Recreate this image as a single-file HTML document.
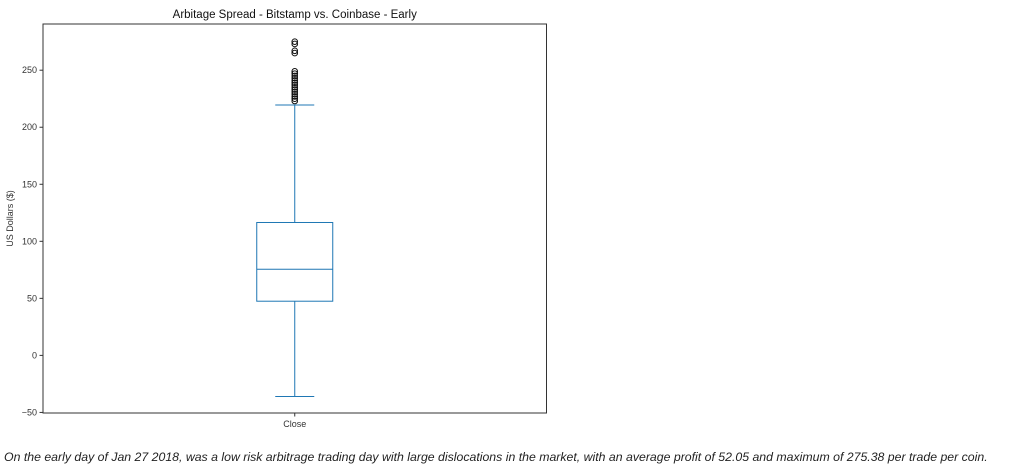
<!DOCTYPE html>
<html><head><meta charset="utf-8"><style>
body{margin:0;background:#fff;width:1019px;height:473px;overflow:hidden;font-family:"Liberation Sans",sans-serif}
svg{position:absolute;left:0;top:0}
.cap{position:absolute;left:4px;top:450px;font-style:italic;font-size:12.3px;color:#222;white-space:nowrap}
</style></head><body>
<svg id="chart" width="1019" height="473"></svg>
<div class="cap">On the early day of Jan 27 2018, was a low risk arbitrage trading day with large dislocations in the market, with an average profit of 52.05 and maximum of 275.38 per trade per coin.</div>
<script>
const categories=["Close"];
const q1=[47.5], median=[75.5], q3=[116.5], whiskerLow=[-36], whiskerHigh=[219.5];
const outliers=[275,273,267,265,249,247,245,243,241,239,237,235,233,231,229,227,225,223];
const yTicks=[-50,0,50,100,150,200,250];
const NS="http://www.w3.org/2000/svg";
const svg=document.getElementById('chart');
const L=43,R=546.5,T=24,B=413,ymin=-50.5,ymax=290.5;
const y=v=>B-(v-ymin)/(ymax-ymin)*(B-T);
const x=i=>L+(i+0.5)*(R-L)/categories.length;
function mk(t,a){const e=document.createElementNS(NS,t);for(const k in a)e.setAttribute(k,a[k]);svg.appendChild(e);return e;}
const frame=mk('rect',{x:L,y:T,width:R-L,height:B-T,fill:'none',stroke:'#333','stroke-width':1});


const title=mk('text',{x:(L+R)/2,y:18,'text-anchor':'middle','font-size':11.5,fill:'#111'});title.textContent='Arbitage Spread - Bitstamp vs. Coinbase - Early';


const yl=mk('text',{x:13,y:(T+B)/2,'text-anchor':'middle','font-size':9,fill:'#333',transform:`rotate(-90 13 ${(T+B)/2})`});yl.textContent='US Dollars ($)';


yTicks.forEach(t=>{
 mk('line',{x1:L-3.5,x2:L,y1:y(t),y2:y(t),stroke:'#333'});
 const tx=mk('text',{x:L-6,y:y(t)+3,'text-anchor':'end','font-size':9,fill:'#333'});tx.textContent=t<0?'\u2212'+(-t):t;
 
 
});
const c='#1f77b4';
categories.forEach((cat,i)=>{
 const cx=x(i),bw=76,cw=39;
 mk('line',{x1:cx,x2:cx,y1:B,y2:B+3.5,stroke:'#333'});
 const xl=mk('text',{x:cx,y:B+14,'text-anchor':'middle','font-size':9,fill:'#333'});xl.textContent=cat;
 
 
 const box=mk('rect',{x:cx-bw/2,y:y(q3[i]),width:bw,height:y(q1[i])-y(q3[i]),fill:'none',stroke:c,'stroke-width':1});
 
 
 const md=mk('line',{x1:cx-bw/2,x2:cx+bw/2,y1:y(median[i]),y2:y(median[i]),stroke:c});
 
 
 mk('line',{x1:cx,x2:cx,y1:y(q3[i]),y2:y(whiskerHigh[i]),stroke:c});
 mk('line',{x1:cx,x2:cx,y1:y(q1[i]),y2:y(whiskerLow[i]),stroke:c});
 mk('line',{x1:cx-cw/2,x2:cx+cw/2,y1:y(whiskerHigh[i]),y2:y(whiskerHigh[i]),stroke:c});
 mk('line',{x1:cx-cw/2,x2:cx+cw/2,y1:y(whiskerLow[i]),y2:y(whiskerLow[i]),stroke:c});
 outliers.forEach(v=>{
  const o=mk('circle',{cx:cx,cy:y(v),r:2.8,fill:'none',stroke:'#111','stroke-width':1});
  
  
 });
});
</script>
</body></html>
